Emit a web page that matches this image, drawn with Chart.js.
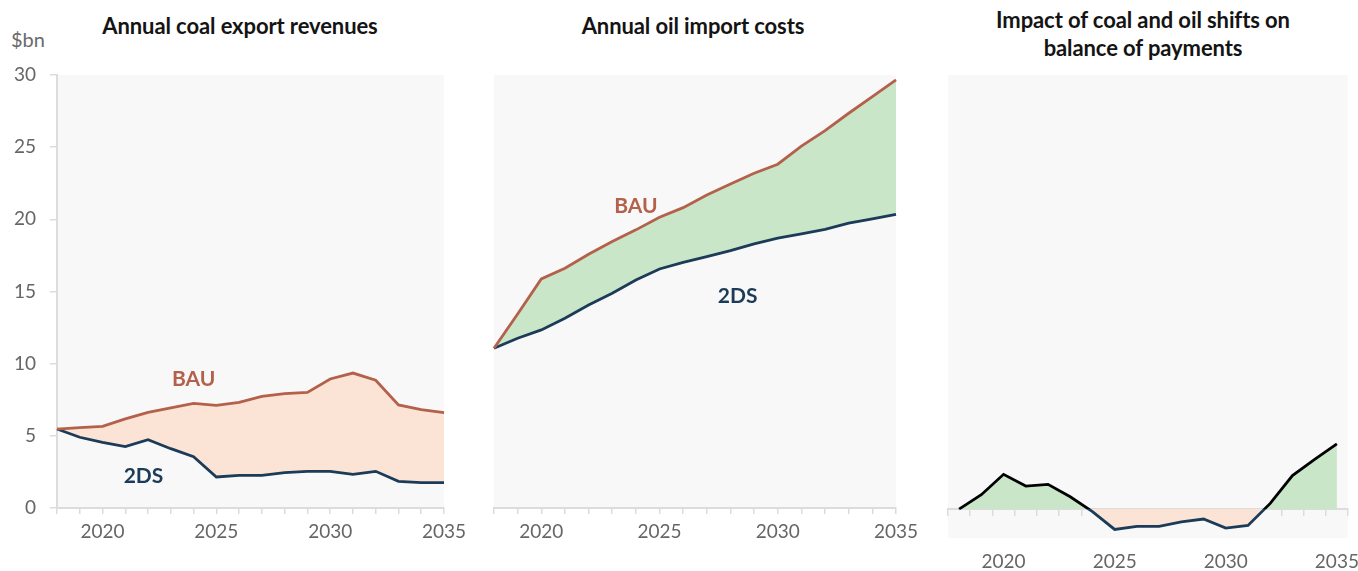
<!DOCTYPE html>
<html>
<head>
<meta charset="utf-8">
<script src="https://cdn.jsdelivr.net/npm/chart.js@4.4.1/dist/chart.umd.min.js"></script>
<style>
  body { margin: 0; background: #fff; font-family: "Lato", "Open Sans", sans-serif; }
  #wrap { position: relative; width: 1358px; height: 571px; overflow: hidden; }
  .panel { position: absolute; top: 0; }
  .title { position: absolute; font-weight: 700; font-size: 22px; color: #141414; text-align: center; line-height: 28px; letter-spacing: -0.1px; }
  .unit { position: absolute; left: 11px; top: 27px; font-size: 20px; color: #6a6a6a; }
</style>
</head>
<body>
<div id="wrap">
  <div class="title" style="left:0;width:480px;top:12px">Annual coal export revenues</div>
  <div class="title" style="left:470px;width:446px;top:12px">Annual oil import costs</div>
  <div class="title" style="left:920px;width:446px;top:6px">Impact of coal and oil shifts on<br>balance of payments</div>
  <div class="unit">$bn</div>
  <canvas class="panel" id="coalChart" width="470" height="571" style="left:0"></canvas>
  <canvas class="panel" id="oilChart" width="450" height="571" style="left:470px"></canvas>
  <canvas class="panel" id="netChart" width="438" height="571" style="left:920px"></canvas>
</div>
<script>
const YEARS = ["2018", "2019", "2020", "2021", "2022", "2023", "2024", "2025", "2026",
  "2027", "2028", "2029", "2030", "2031", "2032", "2033", "2034", "2035"];

const COAL_BAU = [5.47, 5.57, 5.66, 6.17, 6.63, 6.93, 7.25, 7.11, 7.32, 7.74, 7.92, 8.01, 8.94, 9.35, 8.85, 7.14, 6.81, 6.61];
const COAL_2DS = [5.47, 4.90, 4.55, 4.25, 4.73, 4.11, 3.56, 2.15, 2.26, 2.26, 2.45, 2.54, 2.54, 2.33, 2.54, 1.85, 1.76, 1.76];

const OIL_BAU = [11.07, 13.44, 15.87, 16.61, 17.58, 18.46, 19.27, 20.14, 20.81, 21.69, 22.45, 23.19, 23.82, 25.07, 26.15, 27.35, 28.5, 29.66];
const OIL_2DS = [11.07, 11.76, 12.34, 13.15, 14.07, 14.88, 15.8, 16.56, 17.02, 17.42, 17.83, 18.3, 18.69, 18.99, 19.31, 19.73, 20.03, 20.35];

const NET_IMPACT = [0, 0.99, 2.40, 1.59, 1.71, 0.85, -0.18, -1.41, -1.2, -1.2, -0.88, -0.69, -1.32, -1.13, 0.39, 2.31, 3.44, 4.5];

const Y_TICKS = [0, 5, 10, 15, 20, 25, 30];

const BAU_COLOR = "#b4614b";
const DS_COLOR = "#1b3b58";
const PEACH = "#fbe4d6";
const GREEN = "#c9e6c9";
const AXIS_GREY = "#dcdcdc";
const TICK_TEXT = "#666666";
const FONT = '"Lato", "Open Sans", sans-serif';

// grey plot background
const plotBackground = {
  id: "plotBackground",
  beforeDraw(chart) {
    const { ctx, chartArea } = chart;
    ctx.save();
    ctx.fillStyle = "#f8f8f8";
    ctx.fillRect(chartArea.left, chartArea.top, chartArea.right - chartArea.left, chartArea.bottom - chartArea.top);
    ctx.restore();
  }
};

// BAU / 2DS tags placed in data coordinates
const seriesTags = {
  id: "seriesTags",
  afterDatasetsDraw(chart, args, opts) {
    const { ctx, scales } = chart;
    (opts.items || []).forEach((item) => {
      ctx.save();
      ctx.font = `700 21px ${FONT}`;
      ctx.fillStyle = item.color;
      ctx.textAlign = "center";
      ctx.textBaseline = "middle";
      ctx.fillText(item.text, scales.x.getPixelForValue(item.x), scales.y.getPixelForValue(item.y));
      ctx.restore();
    });
  }
};

function yearTick(value) {
  const label = this.getLabelForValue(value);
  return Number(label) % 5 === 0 ? label : "";
}

// let the end labels overhang the plot instead of shrinking it
function noLabelPadding(scale) {
  scale.paddingLeft = 0;
  scale.paddingRight = 0;
}

function lineSet(data, color, fill, fillColor) {
  return {
    data,
    borderColor: color,
    backgroundColor: fillColor || "transparent",
    borderWidth: 2.8,
    pointRadius: 0,
    tension: 0,
    fill
  };
}

function xAxisOptions() {
  return {
    type: "category",
    offset: false,
    grid: { drawOnChartArea: false, drawTicks: true, tickLength: 6, color: AXIS_GREY, lineWidth: 1.5 },
    border: { color: AXIS_GREY, width: 2 },
    ticks: {
      autoSkip: false,
      maxRotation: 0,
      padding: 6,
      color: TICK_TEXT,
      font: { family: FONT, size: 19 },
      callback: yearTick
    },
    afterFit(scale) {
      scale.height = 63;
      noLabelPadding(scale);
    }
  };
}

function baseOptions(padding, showY, tags) {
  return {
    responsive: false,
    animation: false,
    layout: { padding },
    plugins: {
      legend: { display: false },
      tooltip: { enabled: false },
      filler: { drawTime: "beforeDatasetsDraw" },
      seriesTags: { items: tags }
    },
    scales: {
      x: xAxisOptions(),
      y: {
        min: 0,
        max: 30,
        display: showY,
        afterBuildTicks(scale) { scale.ticks = Y_TICKS.map((v) => ({ value: v })); },
        grid: { drawOnChartArea: false, drawTicks: true, tickLength: 7, color: AXIS_GREY, lineWidth: 1.5 },
        border: { color: AXIS_GREY, width: 2 },
        ticks: { padding: 14, color: TICK_TEXT, font: { family: FONT, size: 19 } },
        afterFit(scale) {
          scale.width = showY ? 57 : 0;
          scale.paddingTop = 0;
          scale.paddingBottom = 0;
        }
      }
    }
  };
}

new Chart(document.getElementById("coalChart"), {
  type: "line",
  data: {
    labels: YEARS,
    datasets: [
      lineSet(COAL_BAU, BAU_COLOR, "+1", PEACH),
      lineSet(COAL_2DS, DS_COLOR, false)
    ]
  },
  options: baseOptions({ top: 75, right: 26, left: 0, bottom: 0 }, true, [
    { text: "BAU", x: 6.0, y: 8.9, color: BAU_COLOR },
    { text: "2DS", x: 3.8, y: 2.2, color: DS_COLOR }
  ]),
  plugins: [plotBackground, seriesTags]
});

new Chart(document.getElementById("oilChart"), {
  type: "line",
  data: {
    labels: YEARS,
    datasets: [
      lineSet(OIL_BAU, BAU_COLOR, "+1", GREEN),
      lineSet(OIL_2DS, DS_COLOR, false)
    ]
  },
  options: baseOptions({ top: 75, right: 24, left: 24, bottom: 0 }, false, [
    { text: "BAU", x: 6.0, y: 20.9, color: BAU_COLOR },
    { text: "2DS", x: 10.3, y: 14.7, color: DS_COLOR }
  ]),
  plugins: [plotBackground, seriesTags]
});

// line turns from black to navy where it dips below zero
function splitStroke(context) {
  const { chart } = context;
  const { ctx, chartArea, scales } = chart;
  if (!chartArea || !scales.y) return "#000";
  const zero = scales.y.getPixelForValue(0);
  const frac = Math.min(1, Math.max(0, (zero - chartArea.top) / (chartArea.bottom - chartArea.top)));
  const g = ctx.createLinearGradient(0, chartArea.top, 0, chartArea.bottom);
  g.addColorStop(0, "#000000");
  g.addColorStop(frac, "#000000");
  g.addColorStop(frac, DS_COLOR);
  g.addColorStop(1, DS_COLOR);
  return g;
}

new Chart(document.getElementById("netChart"), {
  type: "line",
  data: {
    labels: YEARS,
    datasets: [
      {
        data: NET_IMPACT,
        borderColor: splitStroke,
        borderWidth: 2.8,
        pointRadius: 0,
        tension: 0,
        fill: { target: { value: 0 }, above: GREEN, below: PEACH }
      }
    ]
  },
  options: {
    responsive: false,
    animation: false,
    layout: { padding: { top: 75, right: 10, left: 28, bottom: 0 } },
    plugins: {
      legend: { display: false },
      tooltip: { enabled: false },
      filler: { drawTime: "beforeDatasetsDraw" }
    },
    scales: {
      x: {
        type: "category",
        offset: true,
        grid: { display: false, drawTicks: false },
        border: { display: false },
        ticks: {
          autoSkip: false,
          maxRotation: 0,
          padding: 12,
          color: TICK_TEXT,
          font: { family: FONT, size: 19 },
          callback: yearTick
        },
        afterFit(scale) {
          scale.height = 33;
          noLabelPadding(scale);
        }
      },
      x2: {
        type: "category",
        position: { y: 0 },
        offset: true,
        grid: { offset: true, drawOnChartArea: false, drawTicks: true, tickLength: 6, color: AXIS_GREY, lineWidth: 1.5 },
        border: { color: AXIS_GREY, width: 2 },
        ticks: { display: false, autoSkip: false },
        afterFit: noLabelPadding
      },
      y: { min: -2, max: 30, display: false }
    }
  },
  plugins: [plotBackground]
});
</script>
</body>
</html>
